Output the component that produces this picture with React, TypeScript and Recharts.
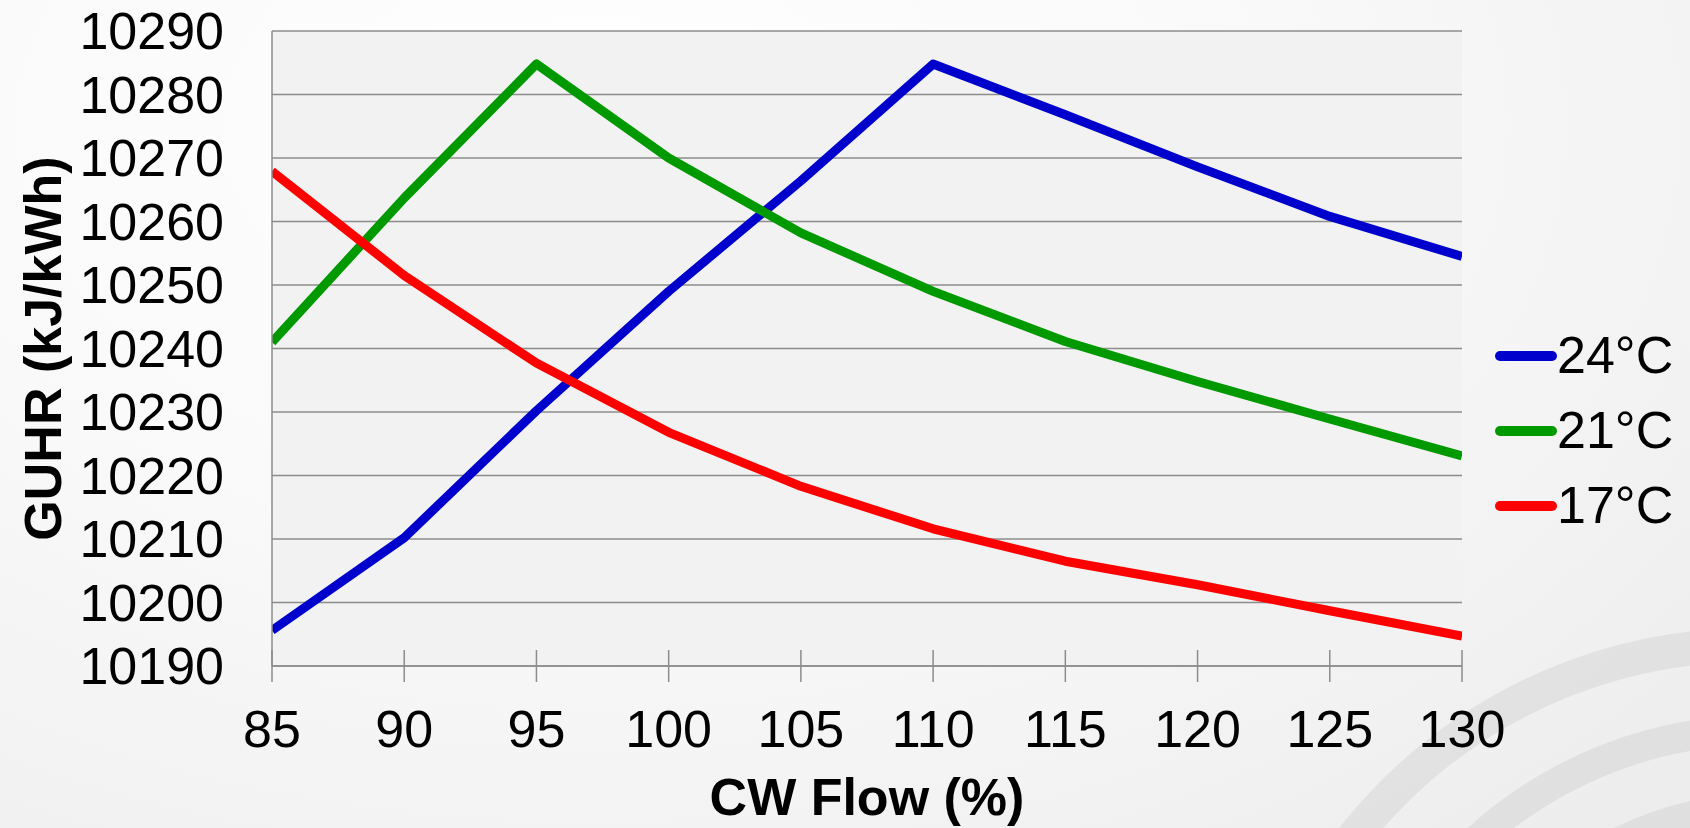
import { CartesianGrid, Legend, Line, LineChart, XAxis, YAxis } from "recharts";

const flow = [85, 90, 95, 100, 105, 110, 115, 120, 125, 130];
const guhr24 = [10195.6, 10210.2, 10230.2, 10249.0, 10266.4, 10284.8, 10276.8, 10268.6, 10260.8, 10254.5];
const guhr21 = [10241.0, 10263.7, 10284.8, 10270.0, 10258.2, 10249.0, 10241.1, 10234.8, 10228.9, 10223.1];
const guhr17 = [10267.9, 10251.5, 10237.7, 10226.8, 10218.3, 10211.6, 10206.5, 10202.8, 10198.7, 10194.7];

const xTicks = [85, 90, 95, 100, 105, 110, 115, 120, 125, 130];
const yTicks = [10190, 10200, 10210, 10220, 10230, 10240, 10250, 10260, 10270, 10280, 10290];

const seriesKeys = ["t24", "t21", "t17"];
const seriesNames = ["24°C", "21°C", "17°C"];
const seriesColors = ["#0000cc", "#009900", "#ff0000"];

const data = flow.map((f, i) => ({ flow: f, t24: guhr24[i], t21: guhr21[i], t17: guhr17[i] }));

const FONT = '"Liberation Sans", Arial, sans-serif';
const AXIS_GRAY = "#8c8c8c";

function FlowTick({ x, y, payload }: any) {
  return (
    <g>
      <line x1={x} x2={x} y1={y - 16} y2={y + 16} stroke={AXIS_GRAY} strokeWidth={1.5} />
      <text x={x} y={y + 81} textAnchor="middle" fontSize={52} fontFamily={FONT} fill="#000">
        {payload.value}
      </text>
    </g>
  );
}

function XTitle({ viewBox }: any) {
  const cx = viewBox.x + viewBox.width / 2;
  return (
    <text x={cx} y={815} textAnchor="middle" fontSize={52} fontWeight="bold" fontFamily={FONT} fill="#000">
      CW Flow (%)
    </text>
  );
}

function YTitle({ viewBox }: any) {
  const cy = viewBox.y + viewBox.height / 2;
  return (
    <text
      x={61}
      y={cy}
      transform={`rotate(-90, 61, ${cy})`}
      textAnchor="middle"
      fontSize={52}
      fontWeight="bold"
      fontFamily={FONT}
      fill="#000"
    >
      GUHR (kJ/kWh)
    </text>
  );
}

function SeriesLegend() {
  return (
    <div style={{ fontFamily: FONT }}>
      {seriesNames.map((name, i) => (
        <div key={name} style={{ display: "flex", alignItems: "center", height: 75 }}>
          <svg width={62} height={10} style={{ display: "block" }}>
            <line x1={5} x2={57} y1={5} y2={5} stroke={seriesColors[i]} strokeWidth={10} strokeLinecap="round" />
          </svg>
          <span style={{ fontSize: 52, lineHeight: "75px", color: "#000" }}>{name}</span>
        </div>
      ))}
    </div>
  );
}

function Swirl() {
  return (
    <svg width={1690} height={828} style={{ position: "absolute", left: 0, top: 0 }}>
      <g fill="none" stroke="#000" strokeOpacity={0.055}>
        <circle cx={1750} cy={1150} r={505} strokeWidth={34} />
        <circle cx={1760} cy={1150} r={420} strokeWidth={30} />
        <circle cx={1770} cy={1150} r={345} strokeWidth={26} />
        <circle cx={1780} cy={1150} r={275} strokeWidth={22} />
      </g>
    </svg>
  );
}

export default function App() {
  return (
    <div
      style={{
        position: "relative",
        width: 1690,
        height: 828,
        overflow: "hidden",
        background: "radial-gradient(ellipse at 35% 15%, #ffffff 0%, #f9f9f9 45%, #ececec 100%)",
      }}
    >
      <style>{"body{margin:0}"}</style>
      <Swirl />
      <LineChart
        width={1690}
        height={828}
        data={data}
        margin={{ top: 31, right: 228, left: 0, bottom: 0 }}
        style={{ position: "absolute", left: 0, top: 0 }}
      >
        <CartesianGrid vertical={false} stroke={AXIS_GRAY} strokeWidth={1.5} fill="#f2f2f2" />
        <XAxis
          dataKey="flow"
          type="number"
          domain={[85, 130]}
          ticks={xTicks}
          interval={0}
          allowDataOverflow
          height={162}
          tickSize={0}
          tickMargin={0}
          tickLine={false}
          tick={<FlowTick />}
          axisLine={{ stroke: AXIS_GRAY, strokeWidth: 1.5 }}
          label={<XTitle />}
        />
        <YAxis
          type="number"
          domain={[10190, 10290]}
          ticks={yTicks}
          interval={0}
          allowDataOverflow
          width={272}
          tickSize={0}
          tickMargin={48}
          tickLine={false}
          tick={{ fontSize: 52, fill: "#000", fontFamily: FONT }}
          axisLine={{ stroke: AXIS_GRAY, strokeWidth: 1.5 }}
          label={<YTitle />}
        />
        <Legend
          layout="vertical"
          align="center"
          verticalAlign="middle"
          content={<SeriesLegend />}
          wrapperStyle={{ left: 1495, top: 318, width: "auto", height: "auto" }}
        />
        {seriesKeys.map((k, i) => (
          <Line
            key={k}
            type="linear"
            dataKey={k}
            name={seriesNames[i]}
            stroke={seriesColors[i]}
            strokeWidth={9}
            strokeLinejoin="round"
            dot={false}
            activeDot={false}
            isAnimationActive={false}
          />
        ))}
      </LineChart>
    </div>
  );
}
